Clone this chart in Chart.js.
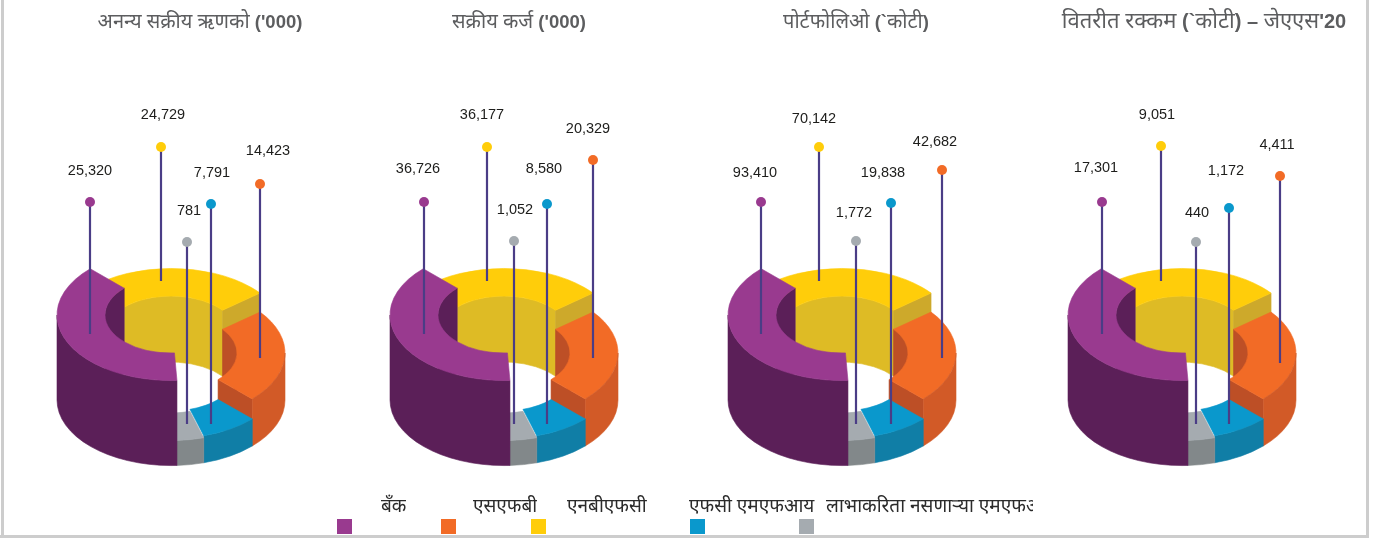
<!doctype html>
<html><head><meta charset="utf-8">
<style>
html,body{margin:0;padding:0;background:#fff}
#page{position:relative;width:1380px;height:538px;overflow:hidden;background:#fff}
canvas{position:absolute;top:0}
.frame{position:absolute;background:#cdcdcd}
.title{position:absolute;top:9px;white-space:nowrap;transform:translateX(-50%);color:#5c5d5f;font:20px 'Noto Sans Devanagari','Noto Sans',sans-serif;line-height:28px}
.title b{font:bold 18.5px 'Liberation Sans',sans-serif}
.title.big{font-size:22px}
.title.big b{font-size:20px}
.swatch{position:absolute;top:519px;width:15px;height:15px}
.legtext{position:absolute;top:494px;white-space:nowrap;color:#2b2b2b;font:19px 'Noto Sans Devanagari','Noto Sans',sans-serif;line-height:28px;overflow:hidden}
</style></head>
<body><div id="page"></div>
<script src="https://cdn.jsdelivr.net/npm/chart.js"></script>
<script>
// ---- chart data ----
const sliceNames = ['बँक','एनबीएफसी','एसएफबी','एफसी एमएफआय','लाभाकरिता नसणाऱ्या एमएफआय'];
const sliceShares = [38.3, 26.8, 23.1, 8.0, 3.8];
const valuesUniqueBorrowers = [25320, 24729, 14423, 7791, 781];
const valuesActiveLoans     = [36726, 36177, 20329, 8580, 1052];
const valuesPortfolio       = [93410, 70142, 42682, 19838, 1772];
const valuesDisbursed       = [17301, 9051, 4411, 1172, 440];
const titleUniqueBorrowers = ['अनन्य सक्रीय ऋणको ', "('000)"];
const titleActiveLoans     = ['सक्रीय कर्ज ', "('000)"];
const titlePortfolio       = ['पोर्टफोलिओ ', '(`', 'कोटी', ')'];
const titleDisbursed       = ['वितरीत रक्कम ', '(`', 'कोटी', ') – ', 'जेएएस', "'20"];
// leader lines: x offset from the ring centre, lift of the top and of the foot above the ring's base
const leaderXUniqueBorrowers = [-81, -10, 89, 40, 16];
const leaderXActiveLoans     = [-80, -17, 89, 43, 10];
const leaderXPortfolio       = [-81, -23, 100, 49, 14];
const leaderXDisbursed       = [-80, -21, 98, 47, 14];
const leaderTopUniqueBorrowers = [198, 253, 216, 196, 158];
const leaderTopActiveLoans     = [198, 253, 240, 196, 159];
const leaderTopPortfolio       = [198, 253, 230, 197, 159];
const leaderTopDisbursed       = [198, 254, 224, 192, 158];
const leaderFootUniqueBorrowers = [66, 119, 42, -24, -24];
const leaderFootActiveLoans     = [66, 119, 42, -24, -24];
const leaderFootPortfolio       = [66, 119, 42, -24, -24];
const leaderFootDisbursed       = [66, 119, 37, -24, -24];
// legend (picture order)
const legendNames = ['बँक','एसएफबी','एनबीएफसी','एफसी एमएफआय','लाभाकरिता नसणाऱ्या एमएफआय'];

// ---- styles and layout ----
const topColors  = ['#993a8f','#ffcd0a','#f26b26','#0a98cc','#a5abb0'];
const wallColors = ['#5b1f58','#debb25','#d25a27','#107ea6','#82888a'];
const faceColors = ['#5b1f58','#cda92b','#bd4f26','#107ea6','#82888a'];
const legendColors = ['#993a8f','#f26b26','#ffcd0a','#0a98cc','#a5abb0'];
const legendSwatchX = [337,441,531,690,799];
const legendTextX = [[381,25],[473,64],[567,80],[689,126],[826,207]];
const sliceLifts = [85,66,47,27,25];
const FLATTEN = 0.575;
const panels = [
 {cx:171, title:titleUniqueBorrowers, tx:200, v:valuesUniqueBorrowers, lx:leaderXUniqueBorrowers, lt:leaderTopUniqueBorrowers, lf:leaderFootUniqueBorrowers,
  nudge:[[0,-31],[2,-32],[8,-33],[1,-31],[2,-31]]},
 {cx:504, title:titleActiveLoans, tx:519, v:valuesActiveLoans, lx:leaderXActiveLoans, lt:leaderTopActiveLoans, lf:leaderFootActiveLoans,
  nudge:[[-6,-33],[-5,-32],[-5,-31],[-3,-35],[1,-31]]},
 {cx:842, title:titlePortfolio, tx:856, v:valuesPortfolio, lx:leaderXPortfolio, lt:leaderTopPortfolio, lf:leaderFootPortfolio,
  nudge:[[-6,-29],[-5,-28],[-7,-28],[-8,-30],[-2,-28]]},
 {cx:1182, title:titleDisbursed, tx:1204, big:true, v:valuesDisbursed, lx:leaderXDisbursed, lt:leaderTopDisbursed, lf:leaderFootDisbursed,
  nudge:[[-6,-34],[-4,-31],[-3,-31],[-3,-37],[1,-29]]}
];

const ringPlugin = {
  id:'ring3d',
  beforeDatasetDraw(chart,args){
    if(args.meta.type!=='doughnut') return;
    const ctx=chart.ctx, base=chart.scales.y.getPixelForValue(0);
    const arcs=args.meta.data.map(a=>a.getProps(['x','startAngle','endAngle','innerRadius','outerRadius'],true));
    const paint=color=>{ctx.closePath();ctx.fillStyle=color;ctx.strokeStyle=color;ctx.lineWidth=0.6;ctx.fill();ctx.stroke();};
    const sector=(i,color)=>{const a=arcs[i],c=base-sliceLifts[i];
      ctx.beginPath();
      ctx.ellipse(a.x,c,a.outerRadius,a.outerRadius*FLATTEN,0,a.startAngle,a.endAngle);
      ctx.ellipse(a.x,c,a.innerRadius,a.innerRadius*FLATTEN,0,a.endAngle,a.startAngle,true);
      paint(color);};
    const wall=(i,r,a0,a1,color)=>{const a=arcs[i],c=base-sliceLifts[i];
      ctx.beginPath();
      ctx.ellipse(a.x,c,r,r*FLATTEN,0,a0,a1);
      ctx.ellipse(a.x,base,r,r*FLATTEN,0,a1,a0,true);
      paint(color);};
    const face=(i,ang,color)=>{const a=arcs[i],c=base-sliceLifts[i],cs=Math.cos(ang),sn=Math.sin(ang);
      const p=(r,y)=>[a.x+r*cs,y+r*FLATTEN*sn];
      ctx.beginPath();
      ctx.moveTo(...p(a.innerRadius,c));ctx.lineTo(...p(a.outerRadius,c));
      ctx.lineTo(...p(a.outerRadius,base));ctx.lineTo(...p(a.innerRadius,base));
      paint(color);};
    const TWO=Math.PI*2, P=Math.PI;
    ctx.save();
    // back to front: yellow, orange, blue, grey, purple
    wall(1,arcs[1].innerRadius,arcs[1].startAngle,arcs[1].endAngle,wallColors[1]);
    face(1,arcs[1].endAngle,faceColors[1]);
    sector(1,topColors[1]);
    const o=arcs[2];
    const rightmost=Math.floor(o.endAngle/TWO)*TWO; // the rightmost point of the ring
    wall(2,o.innerRadius,o.startAngle,rightmost,faceColors[2]);
    face(2,o.endAngle,faceColors[2]);
    sector(2,topColors[2]);
    wall(2,o.outerRadius,rightmost,o.endAngle,wallColors[2]);
    [3,4].forEach(i=>{const a=arcs[i];
      wall(i,a.outerRadius,a.startAngle,a.endAngle,wallColors[i]);
      sector(i,topColors[i]);});
    const q=arcs[0];
    const half=Math.floor(q.startAngle/P+1)*P; // the leftmost point of the ring
    wall(0,q.innerRadius,half,q.endAngle,wallColors[0]);
    wall(0,q.outerRadius,q.startAngle,half,wallColors[0]);
    sector(0,topColors[0]);
    ctx.restore();
    return false;
  }
};
const labelPlugin = {
  id:'leaderLabels',
  afterDatasetsDraw(chart,args,opts){
    const ctx=chart.ctx,{x,y}=chart.scales;
    ctx.save();ctx.font="14.5px 'Liberation Sans',sans-serif";ctx.fillStyle='#1d1d1b';ctx.textAlign='center';ctx.textBaseline='middle';
    opts.values.forEach((v,i)=>{
      ctx.fillText(v.toLocaleString('en-US'),x.getPixelForValue(opts.lx[i])+opts.nudge[i][0],y.getPixelForValue(opts.lt[i])+opts.nudge[i][1]);
    });
    ctx.restore();
  }
};

const page=document.getElementById('page');
[[1,0,2.5,535],[1365.5,0,3,535],[0,535,1369,3]].forEach(([l,t,w,h])=>{
  const d=document.createElement('div');d.className='frame';
  d.style.cssText=`left:${l}px;top:${t}px;width:${w}px;height:${h}px`;page.appendChild(d);});

panels.forEach(p=>{
  const cv=document.createElement('canvas');cv.width=344;cv.height=538;
  cv.style.left=(p.cx-172)+'px';page.appendChild(cv);
  const leaders=p.v.map((_,i)=>({type:'scatter',showLine:true,weight:0,order:1,
    data:[{x:p.lx[i],y:p.lt[i]},{x:p.lx[i],y:p.lf[i]}],
    borderColor:'#4a3d86',borderWidth:2.2,
    pointRadius:[5,0],pointBackgroundColor:topColors[i],pointBorderWidth:0,clip:false}));
  new Chart(cv,{
    type:'scatter',
    data:{labels:sliceNames,datasets:[
      {type:'doughnut',order:10,data:sliceShares,radius:114,cutout:'57.9%',rotation:177,borderWidth:0,backgroundColor:topColors},
      ...leaders]},
    options:{responsive:false,animation:false,devicePixelRatio:1,
      layout:{padding:0,autoPadding:false},
      scales:{x:{type:'linear',display:false,min:-172,max:172},
              y:{type:'linear',display:false,min:-138,max:400}},
      plugins:{legend:{display:false},tooltip:{enabled:false},
        leaderLabels:{values:p.v,lx:p.lx,lt:p.lt,nudge:p.nudge}}},
    plugins:[ringPlugin,labelPlugin]
  });
  const t=document.createElement('div');t.className='title'+(p.big?' big':'');t.style.left=p.tx+'px';
  p.title.forEach((s,i)=>{const e=document.createElement(/[\u0900-\u097F]/.test(s)?'span':'b');e.textContent=s;t.appendChild(e);});
  page.appendChild(t);
});
legendNames.forEach((n,i)=>{
  const s=document.createElement('div');s.className='swatch';
  s.style.left=legendSwatchX[i]+'px';s.style.background=legendColors[i];page.appendChild(s);
  const l=document.createElement('div');l.className='legtext';
  l.style.left=legendTextX[i][0]+'px';l.style.width=legendTextX[i][1]+'px';l.textContent=n;page.appendChild(l);
});
</script></body></html>
